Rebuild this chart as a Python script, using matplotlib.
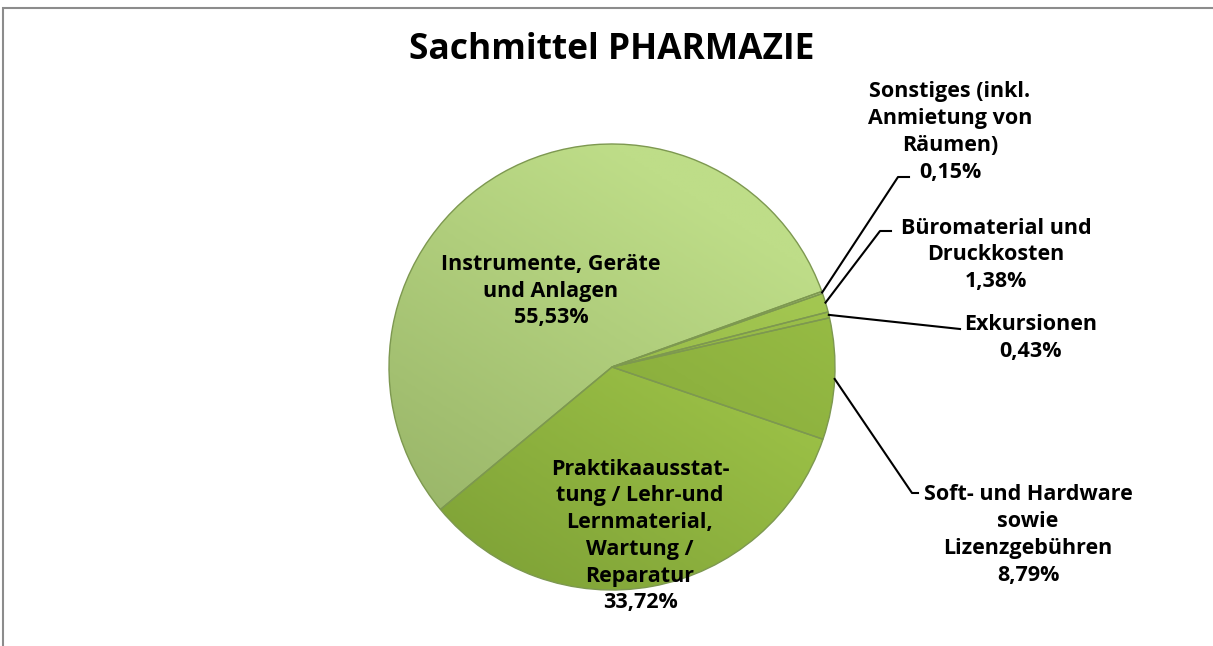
import numpy as np
import matplotlib.pyplot as plt
from matplotlib.colors import LinearSegmentedColormap
from matplotlib.patches import Rectangle

plt.rcParams['font.family'] = ['Open Sans', 'DejaVu Sans']

# --- Data ---
labels = [
    "Instrumente, Geräte\nund Anlagen",
    "Praktikaausstat-\ntung / Lehr-und\nLernmaterial,\nWartung /\nReparatur",
    "Soft- und Hardware\nsowie\nLizenzgebühren",
    "Exkursionen",
    "Büromaterial und\nDruckkosten",
    "Sonstiges (inkl.\nAnmietung von\nRäumen)",
]
shares = [55.53, 33.72, 8.79, 0.43, 1.38, 0.15]
pct_text = ["55,53%", "33,72%", "8,79%", "0,43%", "1,38%", "0,15%"]

# light -> dark gradient per slice (fake Excel 3D look)
grad_colors = [
    ("#bedd88", "#95b165"),
    ("#a7cd4d", "#7c9f35"),
    ("#98bd45", "#7a9c33"),
    ("#9cc04a", "#85a83a"),
    ("#a4c852", "#8aac3e"),
    ("#b6cf8a", "#9ab26e"),
]

W, H = 1213, 646
CX, CY, R = 612, H - 367, 223
START = 19.8

# label block centres (pixels from top-left) and leader elbows
label_pos = [(551, 291), (640, 536), (1028, 535), (1031, 338), (996, 255), (950, 132)]
leaders = {
    2: [(912, 493), (918, 493)],
    3: [(960, 329)],
    4: [(880, 231), (891, 231)],
    5: [(898, 177), (909, 177)],
}

fig = plt.figure(figsize=(W / 100, H / 100), dpi=100)
ax = fig.add_axes([0, 0, 1, 1])

wedges, _ = ax.pie(shares, startangle=START, counterclock=True,
                   center=(CX, CY), radius=R,
                   wedgeprops=dict(linewidth=1.0, edgecolor="#7d9850"))

# gradient: light at top-right, darker towards bottom-left
yy, xx = np.mgrid[0:1:200j, 0:1:200j]
grad = np.clip(0.5 * (1 - xx) + 0.8 * yy - 0.25, 0, 1)
for w, (c1, c2) in zip(wedges, grad_colors):
    cmap = LinearSegmentedColormap.from_list("g", [c1, c2])
    im = ax.imshow(grad, cmap=cmap, extent=(CX - R, CX + R, CY - R, CY + R),
                   origin="upper", zorder=1.5, interpolation="bilinear")
    im.set_clip_path(w)
    w.set_facecolor("none")
    w.set_zorder(2)

for i, (lab, pct) in enumerate(zip(labels, pct_text)):
    x, y = label_pos[i]
    ax.text(x, H - y, lab + "\n" + pct, ha="center", va="center",
            fontsize=15.5, fontweight="bold", linespacing=1.36, zorder=5)

# leader lines from wedge edge to labels
for i, pts in leaders.items():
    theta = np.deg2rad((wedges[i].theta1 + wedges[i].theta2) / 2)
    xs = [CX + R * np.cos(theta)] + [p[0] for p in pts]
    ys = [CY + R * np.sin(theta)] + [H - p[1] for p in pts]
    ax.plot(xs, ys, color="black", linewidth=1.5, zorder=4)

ax.set_xlim(0, W)
ax.set_ylim(0, H)
ax.set_aspect("equal")
ax.axis("off")

fig.text(612 / W, 1 - 50 / H, "Sachmittel PHARMAZIE", ha="center", va="center",
         fontsize=25.5, fontweight="bold")

# chart border (cut off at right/bottom like the screenshot)
fig.patches.append(Rectangle((3 / W, -0.1), 1.2, 1 - 8 / H + 0.1,
                             transform=fig.transFigure, fill=False,
                             edgecolor="#8c8c8c", linewidth=1.5))

plt.savefig("out.png", dpi=100)
